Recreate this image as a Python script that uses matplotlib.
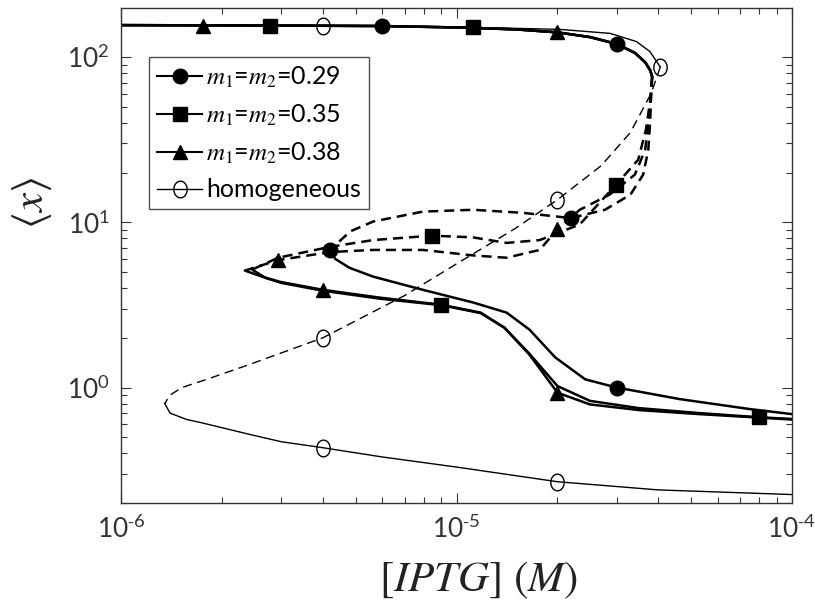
import matplotlib
matplotlib.use("Agg")
import matplotlib.pyplot as plt
import numpy as np
from matplotlib.ticker import NullFormatter, FixedLocator, FixedFormatter, LogLocator
from matplotlib.path import Path

plt.rcParams['font.family'] = ['Lato', 'DejaVu Sans']
plt.rcParams['mathtext.fontset'] = 'stix'

# ---------------- data ----------------
# heterogeneous upper (stable) branch, shared by the three curves
up_x = [1e-6, 3e-6, 6e-6, 1e-5, 1.5e-5, 2e-5, 2.5e-5, 3e-5, 3.4e-5, 3.65e-5, 3.78e-5, 3.83e-5]
up_y = [156, 155, 154, 151, 147, 141, 132, 120, 106, 93, 83, 76]

# m1=m2=0.29 (circle)
c_mid_x = [3.83e-5, 3.8e-5, 3.78e-5, 3.73e-5, 3.6e-5, 3.3e-5, 2.77e-5, 2.19e-5, 1.58e-5, 1.12e-5, 7.94e-6, 5.64e-6, 4.82e-6, 4.2e-6]
c_mid_y = [76, 59, 41.6, 27.4, 19.4, 14.7, 11.9, 10.6, 11.4, 11.9, 11.6, 10.1, 8.8, 6.8]
c_low_x = [4.2e-6, 4.35e-6, 4.8e-6, 5.64e-6, 7.94e-6, 1.12e-5, 1.41e-5, 1.65e-5, 1.97e-5, 2.42e-5, 3e-5, 4.64e-5, 7.5e-5, 1e-4]
c_low_y = [6.8, 6.0, 5.3, 4.69, 3.9, 3.27, 2.84, 2.24, 1.52, 1.12, 1.0, 0.85, 0.74, 0.69]
c_mk_x = [6e-6, 3e-5, 2.19e-5, 4.2e-6, 3e-5]
c_mk_y = [154, 120, 10.6, 6.8, 1.0]

# m1=m2=0.35 (square)
s_mid_x = [3.83e-5, 3.78e-5, 3.67e-5, 3.48e-5, 2.99e-5, 2.33e-5, 1.77e-5, 1.41e-5, 1.12e-5, 8.44e-6, 5.64e-6, 4.2e-6, 2.94e-6, 2.46e-6]
s_mid_y = [76, 55, 36.3, 23.9, 16.9, 9.7, 7.8, 7.5, 8.1, 8.3, 7.8, 7.1, 6.1, 5.17]
s_low_x = [2.46e-6, 2.7e-6, 3e-6, 4e-6, 5.9e-6, 9e-6, 1.18e-5, 1.39e-5, 1.65e-5, 2e-5, 2.5e-5, 3.5e-5, 5.3e-5, 8e-5, 1e-4]
s_low_y = [5.17, 4.6, 4.3, 3.85, 3.45, 3.15, 2.82, 2.3, 1.6, 1.02, 0.83, 0.75, 0.7, 0.66, 0.645]
s_mk_x = [2.78e-6, 1.12e-5, 2.99e-5, 8.44e-6, 9e-6, 8e-5]
s_mk_y = [155, 151, 16.9, 8.3, 3.15, 0.66]

# m1=m2=0.38 (triangle)
t_mid_x = [3.83e-5, 3.78e-5, 3.65e-5, 3.4e-5, 2.86e-5, 2.33e-5, 2e-5, 1.77e-5, 1.41e-5, 1.12e-5, 7.94e-6, 5.64e-6, 4.2e-6, 2.94e-6, 2.34e-6]
t_mid_y = [76, 47.8, 27.4, 19.4, 14.7, 11.9, 9.1, 6.8, 6.1, 6.3, 6.8, 6.8, 6.6, 5.9, 5.1]
t_low_x = [2.34e-6, 2.63e-6, 2.98e-6, 4e-6, 5.9e-6, 9e-6, 1.18e-5, 1.39e-5, 1.65e-5, 2e-5, 2.5e-5, 3.5e-5, 5.3e-5, 1e-4]
t_low_y = [5.1, 4.69, 4.36, 3.9, 3.5, 3.17, 2.84, 2.3, 1.58, 0.93, 0.79, 0.73, 0.69, 0.64]
t_mk_x = [1.75e-6, 2e-5, 2e-5, 2.94e-6, 4e-6, 2e-5]
t_mk_y = [155, 141, 9.1, 5.9, 3.9, 0.93]

# homogeneous
h_up_x = [1e-6, 4e-6, 1e-5, 2.03e-5, 2.87e-5, 3.44e-5, 3.77e-5, 4.05e-5]
h_up_y = [156, 155, 152, 147, 139, 124, 108, 87]
h_mid_x = [4.05e-5, 3.8e-5, 3.3e-5, 2.7e-5, 2e-5, 1.5e-5, 1e-5, 7e-6, 4e-6, 2.42e-6, 1.8e-6, 1.52e-6, 1.4e-6, 1.35e-6]
h_mid_y = [87, 60, 35, 22, 13.7, 9.2, 5.6, 3.6, 2.0, 1.38, 1.12, 1.0, 0.9, 0.8]
h_low_x = [1.35e-6, 1.4e-6, 1.57e-6, 1.72e-6, 2.42e-6, 3e-6, 4e-6, 6e-6, 1e-5, 2e-5, 4e-5, 1e-4]
h_low_y = [0.8, 0.7, 0.64, 0.615, 0.52, 0.47, 0.432, 0.38, 0.33, 0.269, 0.24, 0.225]
h_mk_x = [4e-6, 4.05e-5, 2e-5, 4e-6, 4e-6, 2e-5]
h_mk_y = [155, 87, 13.7, 2.0, 0.432, 0.269]

labels = [r'$m_{\mathit{1}}$=$m_{\mathit{2}}$=0.29', r'$m_{\mathit{1}}$=$m_{\mathit{2}}$=0.35',
          r'$m_{\mathit{1}}$=$m_{\mathit{2}}$=0.38', 'homogeneous']

xtick_vals = [1e-6, 1e-5, 1e-4]
xtick_labels = [r'$\mathdefault{10^{\text{-}6}}$', r'$\mathdefault{10^{\text{-}5}}$', r'$\mathdefault{10^{\text{-}4}}$']
ytick_vals = [1, 10, 100]
ytick_labels = [r'$\mathdefault{10^{0}}$', r'$\mathdefault{10^{1}}$', r'$\mathdefault{10^{2}}$']

# ---------------- plot ----------------
fig = plt.figure(figsize=(8.15, 6.10), dpi=100)
ax = fig.add_axes([121/815, 1-503/610, (792-121)/815, (503-8)/610])
ax.set_xscale('log')
ax.set_yscale('log')

k = 'black'
thick = 1.8
thin = 1.0
dash_thick = (0, (4, 2.4))
dash_thin = (0, (6.5, 4))

for mx, my, lx, ly in [(c_mid_x, c_mid_y, c_low_x, c_low_y),
                       (s_mid_x, s_mid_y, s_low_x, s_low_y),
                       (t_mid_x, t_mid_y, t_low_x, t_low_y)]:
    ax.plot(up_x, up_y, color=k, lw=thick, solid_capstyle='round')
    ax.plot(mx, my, color=k, lw=thick, linestyle=dash_thick)
    ax.plot(lx, ly, color=k, lw=thick, solid_capstyle='round', solid_joinstyle='round')

ax.plot(h_up_x, h_up_y, color=k, lw=thin)
ax.plot(h_mid_x, h_mid_y, color=k, lw=thin, linestyle=dash_thin)
ax.plot(h_low_x, h_low_y, color=k, lw=thin)

# slightly tall ellipse for the open-circle marker
th = np.linspace(0, 2 * np.pi, 60)
ell = Path(np.column_stack([0.8 * np.cos(th), np.sin(th)]), closed=True)

ms = 10.5
ax.plot(c_mk_x, c_mk_y, linestyle='none', marker='o', ms=ms, color=k)
ax.plot(s_mk_x, s_mk_y, linestyle='none', marker='s', ms=ms - 1, color=k)
ax.plot(t_mk_x, t_mk_y, linestyle='none', marker='^', ms=ms, color=k)
ax.plot(h_mk_x, h_mk_y, linestyle='none', marker=ell, ms=ms + 1.5, mfc='none', mec=k, mew=1.0)

# legend handles
hs = [
    ax.plot([], [], color=k, lw=1.5, marker='o', ms=ms)[0],
    ax.plot([], [], color=k, lw=1.5, marker='s', ms=ms - 1)[0],
    ax.plot([], [], color=k, lw=1.5, marker='^', ms=ms)[0],
    ax.plot([], [], color=k, lw=1.0, marker=ell, ms=ms + 1.5, mfc='none', mew=1.0)[0],
]
leg = ax.legend(hs, labels, loc='upper left', bbox_to_anchor=((149-121)/671, 1-(57-8)/495),
                fontsize=18, frameon=True, fancybox=False, edgecolor='#222222',
                handlelength=1.8, handletextpad=0.15, borderpad=0.32, labelspacing=0.5,
                borderaxespad=0)
leg.get_frame().set_linewidth(1.0)

ax.set_xlim(1e-6, 1e-4)
ax.set_ylim(0.2, 198)

ax.xaxis.set_major_locator(FixedLocator(xtick_vals))
ax.xaxis.set_major_formatter(FixedFormatter(xtick_labels))
ax.yaxis.set_major_locator(FixedLocator(ytick_vals))
ax.yaxis.set_major_formatter(FixedFormatter(ytick_labels))
ax.xaxis.set_minor_locator(LogLocator(base=10, subs=range(2, 10), numticks=20))
ax.yaxis.set_minor_locator(LogLocator(base=10, subs=range(2, 10), numticks=20))
ax.xaxis.set_minor_formatter(NullFormatter())
ax.yaxis.set_minor_formatter(NullFormatter())

ax.tick_params(which='both', direction='in', top=True, right=True, colors='#333333', labelcolor='#333333')
ax.tick_params(which='major', length=7, width=0.8, labelsize=19)
ax.tick_params(which='minor', length=4, width=0.8)
ax.tick_params(axis='x', which='major', pad=9)
ax.tick_params(axis='y', which='major', pad=8)
for sp in ax.spines.values():
    sp.set_linewidth(1.0)
    sp.set_color('#333333')

ax.set_xlabel(r'$[IPTG]\ (M)$', fontsize=31, color='#222222')
ax.xaxis.set_label_coords(0.532, -0.115)
ax.set_ylabel(r'$\langle x \rangle$', fontsize=31, color='#222222')
ax.yaxis.set_label_coords(-0.10, 0.606)

fig.savefig('out.png', dpi=100)
